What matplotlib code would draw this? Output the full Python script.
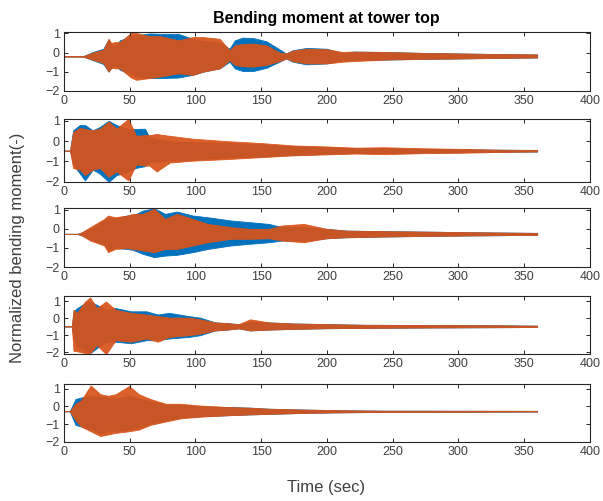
import numpy as np
from matplotlib import pyplot as plt

plt.rcParams['font.family'] = ['Liberation Sans', 'DejaVu Sans']

blue = '#0072BD'
orange = '#D95319'

# envelopes: time (sec), upper / lower of each response
# panel 1
t1 = [0, 15, 22, 30, 34, 36, 39, 42.6, 51, 55, 65, 73, 87, 98, 106, 118.5, 126, 130, 136, 144, 154, 164, 169, 174, 184.5, 200, 212, 220, 244, 273, 302, 331, 360]
b1_hi = [-0.2, -0.18, 0.03, 0.2, 0.69, 0.4, 0.3, 0.64, 0.85, 0.9, 1.0, 0.98, 0.98, 0.72, 0.6, 0.52, 0.2, 0.64, 0.78, 0.76, 0.59, 0.17, -0.05, 0.12, 0.24, 0.2, -0.05, 0.05, 0.03, -0.02, -0.05, -0.08, -0.1]
b1_lo = [-0.2, -0.22, -0.4, -0.6, -1.0, -0.8, -0.65, -0.9, -1.15, -1.25, -1.34, -1.34, -1.31, -1.17, -1.0, -0.83, -0.48, -0.83, -0.97, -0.97, -0.8, -0.48, -0.31, -0.48, -0.62, -0.57, -0.4, -0.4, -0.37, -0.33, -0.31, -0.28, -0.26]
o1_hi = [-0.2, -0.18, 0.0, 0.15, 0.72, 0.5, 0.55, 0.55, 1.03, 1.03, 0.86, 0.86, 0.64, 0.81, 0.81, 0.72, 0.12, 0.38, 0.45, 0.47, 0.38, 0.0, -0.05, 0.1, 0.2, 0.17, 0.03, 0.05, 0.03, -0.02, -0.05, -0.08, -0.1]
o1_lo = [-0.2, -0.22, -0.38, -0.55, -1.0, -0.8, -0.83, -0.83, -1.31, -1.43, -1.34, -1.26, -1.09, -1.17, -1.0, -0.83, -0.4, -0.65, -0.72, -0.74, -0.65, -0.45, -0.31, -0.45, -0.57, -0.57, -0.48, -0.45, -0.37, -0.33, -0.31, -0.28, -0.26]

# panel 2
t2 = [0, 4.6, 7, 12, 16, 22, 27.4, 34, 40, 49, 55, 61.6, 65, 70.5, 80.6, 98, 124, 149, 174, 200, 222, 244, 273, 302, 331, 360]
b2_hi = [-0.47, -0.47, 0.53, 0.79, 0.79, 0.53, 0.7, 1.0, 0.79, 0.6, 0.6, 0.61, 0.2, 0.1, 0.0, -0.05, -0.1, -0.15, -0.25, -0.3, -0.35, -0.35, -0.38, -0.4, -0.42, -0.43]
b2_lo = [-0.47, -0.47, -1.14, -1.58, -1.93, -1.4, -1.6, -2.0, -1.67, -1.49, -1.31, -1.23, -1.0, -1.0, -0.95, -0.9, -0.8, -0.75, -0.68, -0.62, -0.58, -0.58, -0.56, -0.54, -0.52, -0.51]
o2_hi = [-0.47, -0.47, 0.44, 0.65, 0.6, 0.53, 0.61, 0.96, 0.61, 1.1, 0.26, 0.3, 0.3, 0.35, 0.26, 0.12, 0.0, -0.09, -0.21, -0.26, -0.32, -0.3, -0.35, -0.38, -0.42, -0.44]
o2_lo = [-0.47, -0.47, -1.32, -1.4, -1.67, -1.4, -1.32, -1.75, -1.49, -1.93, -1.14, -1.2, -1.2, -1.49, -1.05, -0.96, -0.88, -0.79, -0.7, -0.65, -0.61, -0.64, -0.59, -0.57, -0.53, -0.51]

# panel 3
t3 = [0, 10, 13, 20, 30.6, 33.6, 39, 48, 52.5, 60, 68.6, 77, 86, 98, 109.5, 127, 141.6, 156, 166, 182.5, 200, 214.6, 244, 273, 302, 331, 360]
b3_hi = [-0.26, -0.26, -0.2, 0.0, 0.44, 0.6, 0.55, 0.7, 0.7, 0.96, 1.08, 0.79, 0.91, 0.7, 0.61, 0.44, 0.35, 0.26, 0.09, 0.09, 0.0, -0.09, -0.12, -0.14, -0.17, -0.19, -0.21]
b3_lo = [-0.26, -0.26, -0.32, -0.55, -0.8, -1.1, -1.0, -1.05, -1.1, -1.31, -1.48, -1.4, -1.36, -1.22, -1.05, -0.87, -0.78, -0.7, -0.61, -0.61, -0.49, -0.44, -0.4, -0.37, -0.35, -0.33, -0.31]
o3_hi = [-0.26, -0.26, -0.2, 0.09, 0.52, 0.7, 0.61, 0.7, 0.79, 0.79, 1.05, 0.52, 0.79, 0.52, 0.26, 0.09, 0.0, 0.0, 0.18, 0.26, 0.0, -0.09, -0.12, -0.14, -0.17, -0.19, -0.21]
o3_lo = [-0.26, -0.26, -0.32, -0.61, -0.87, -1.22, -1.05, -1.0, -1.05, -1.13, -1.22, -1.05, -1.05, -0.87, -0.7, -0.52, -0.52, -0.49, -0.61, -0.7, -0.49, -0.44, -0.4, -0.37, -0.35, -0.33, -0.31]

# panel 4
t4 = [0, 6, 7.3, 10, 16, 20, 25, 32, 39.4, 51, 62.8, 71.5, 80, 95, 103.6, 115, 124, 133, 141.6, 156, 173.7, 200, 229, 273, 331, 360]
b4_hi = [-0.47, -0.47, 0.4, 0.6, 0.88, 0.98, 0.79, 0.5, 0.6, 0.41, 0.41, 0.22, 0.32, 0.13, 0.04, -0.24, -0.28, -0.34, -0.2, -0.24, -0.3, -0.34, -0.38, -0.39, -0.41, -0.43]
b4_lo = [-0.47, -0.47, -1.2, -1.65, -1.84, -2.03, -1.75, -1.37, -1.37, -1.46, -1.28, -1.28, -1.18, -1.09, -0.99, -0.71, -0.66, -0.59, -0.71, -0.66, -0.62, -0.58, -0.56, -0.54, -0.52, -0.51]
o4_hi = [-0.47, -0.47, 0.5, 0.32, 0.98, 1.22, 0.6, 0.98, 0.5, 0.32, 0.22, 0.13, 0.04, 0.04, -0.06, -0.24, -0.28, -0.34, -0.06, -0.24, -0.3, -0.34, -0.38, -0.39, -0.41, -0.43]
o4_lo = [-0.47, -0.47, -1.9, -1.93, -2.03, -2.03, -1.56, -2.1, -1.28, -1.37, -1.18, -1.37, -1.09, -0.99, -0.9, -0.71, -0.66, -0.59, -0.71, -0.66, -0.62, -0.58, -0.56, -0.54, -0.52, -0.51]

# panel 5
t5 = [0, 4.4, 8.8, 13, 20.4, 27.7, 33.6, 39.4, 49.6, 57, 65.7, 77.4, 89, 103.6, 127, 141.6, 156, 185, 214.6, 244, 360]
b5_hi = [-0.27, -0.27, 0.42, 0.5, 0.6, 0.55, 0.5, 0.45, 0.6, 0.45, 0.3, 0.1, 0.1, 0.0, -0.04, -0.07, -0.13, -0.18, -0.22, -0.24, -0.25]
b5_lo = [-0.27, -0.27, -1.04, -1.13, -1.3, -1.5, -1.4, -1.4, -1.3, -1.2, -1.0, -0.8, -0.62, -0.55, -0.49, -0.45, -0.42, -0.36, -0.33, -0.31, -0.29]
o5_hi = [-0.27, -0.27, 0.15, 0.33, 1.18, 0.69, 0.6, 0.69, 1.15, 0.69, 0.42, 0.15, 0.15, 0.05, -0.04, -0.07, -0.13, -0.18, -0.22, -0.24, -0.25]
o5_lo = [-0.27, -0.27, -0.76, -1.13, -1.4, -1.67, -1.58, -1.49, -1.4, -1.31, -1.04, -0.85, -0.67, -0.58, -0.49, -0.45, -0.42, -0.36, -0.33, -0.31, -0.29]

panels = [(t1, b1_hi, b1_lo, o1_hi, o1_lo),
          (t2, b2_hi, b2_lo, o2_hi, o2_lo),
          (t3, b3_hi, b3_lo, o3_hi, o3_lo),
          (t4, b4_hi, b4_lo, o4_hi, o4_lo),
          (t5, b5_hi, b5_lo, o5_hi, o5_lo)]
ylims = [(-2, 1.1), (-2, 1.1), (-2, 1.1), (-2.1, 1.3), (-2, 1.25)]

# axes boxes in figure fraction: bottom, height
boxes = [(0.819, 0.118), (0.637, 0.126), (0.467, 0.118), (0.293, 0.116), (0.118, 0.115)]

fig = plt.figure(figsize=(6.03, 5.01), dpi=100)
axc = '#262626'

for (t, bh, bl, oh, ol), yl, (bot, h) in zip(panels, ylims, boxes):
    ax = fig.add_axes([0.106, bot, 0.872, h])
    ax.fill_between(t, bl, bh, color=blue, lw=0.6)
    ax.fill_between(t, ol, oh, color=orange, alpha=0.93, lw=0.6)
    ax.set_xlim(0, 400)
    ax.set_ylim(*yl)
    ax.set_xticks(np.arange(0, 401, 50))
    ax.set_yticks([-2, -1, 0, 1])
    ax.tick_params(direction='in', top=True, right=True, length=3, width=0.7,
                   color=axc, labelcolor='#404040', labelsize=9, pad=3)
    for s in ax.spines.values():
        s.set_color(axc)
        s.set_linewidth(0.8)

fig.text(0.541, 0.963, 'Bending moment at tower top', ha='center', va='center',
         fontsize=11.5, fontweight='bold', color='#000000')
fig.text(0.541, 0.026, 'Time (sec)', ha='center', va='center', fontsize=12, color='#404040')
fig.text(0.029, 0.505, 'Normalized bending moment(-)', ha='center', va='center',
         rotation=90, fontsize=12, color='#404040')

fig.savefig('out.png', dpi=100)
